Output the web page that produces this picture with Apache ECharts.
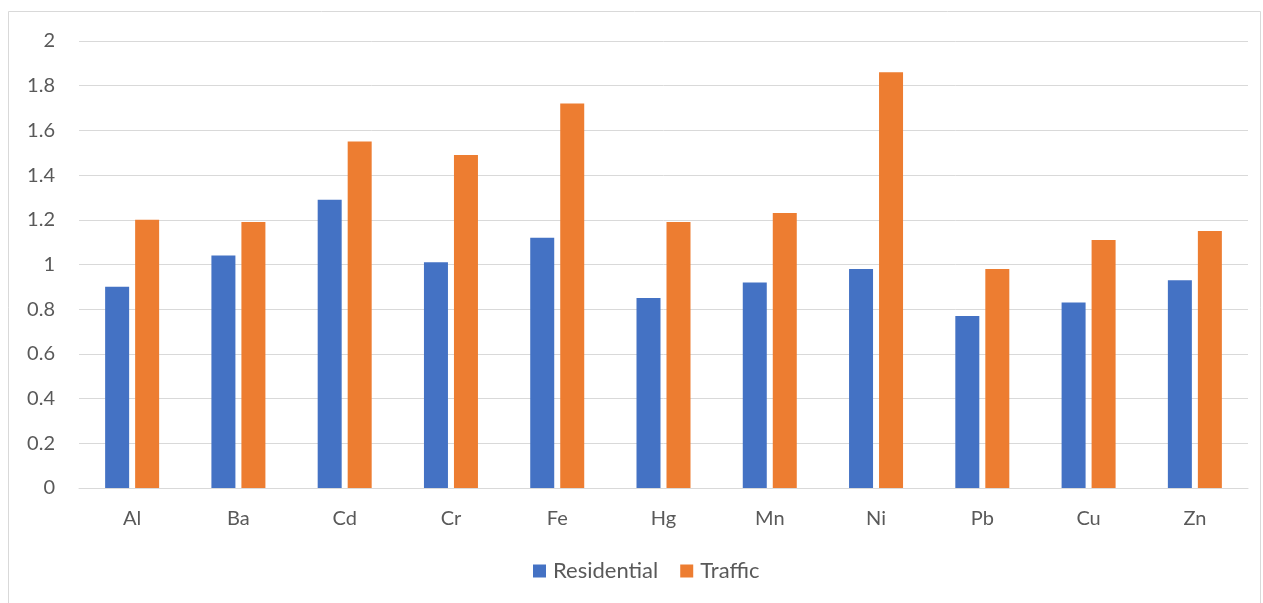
<!DOCTYPE html>
<html><head><meta charset="utf-8">
<script src="https://cdn.jsdelivr.net/npm/echarts@6/dist/echarts.min.js"></script>
<style>html,body{margin:0;padding:0;background:#fff}#c{width:1263px;height:603px}</style>
</head><body><div id="c"></div>
<script>
const categories = ['Al','Ba','Cd','Cr','Fe','Hg','Mn','Ni','Pb','Cu','Zn'];
const residential = [0.90,1.04,1.29,1.01,1.12,0.85,0.92,0.98,0.77,0.83,0.93];
const traffic = [1.20,1.19,1.55,1.49,1.72,1.19,1.23,1.86,0.98,1.11,1.15];
const yTicks = [0,0.2,0.4,0.6,0.8,1,1.2,1.4,1.6,1.8,2];

const font = 'Lato, "Open Sans", sans-serif';
const chart = echarts.init(document.getElementById('c'), null, {renderer:'canvas'});
chart.setOption({
  animation:false,
  backgroundColor:'#fff',
  graphic:[{type:'rect',shape:{x:8.5,y:11.5,width:1252,height:620},style:{fill:'none',stroke:'#d9d9d9',lineWidth:1},silent:true,z:-1}],
  grid:{left:79,right:15,top:41,bottom:115,containLabel:false},
  legend:{bottom:16,left:528,itemWidth:13,itemHeight:13,itemGap:22,
    icon:'rect',textStyle:{fontFamily:font,fontSize:22,color:'#595959',padding:[0,0,0,2]},
    data:['Residential','Traffic']},
  xAxis:{type:'category',data:categories,
    axisLine:{lineStyle:{color:'#d9d9d9',width:1}},axisTick:{show:false},
    axisLabel:{color:'#595959',fontFamily:font,fontSize:20,margin:21}},
  yAxis:{type:'value',min:yTicks[0],max:yTicks[yTicks.length-1],interval:0.2,
    axisLine:{show:false},axisTick:{show:false},
    splitLine:{lineStyle:{color:'#d9d9d9',width:1}},
    axisLabel:{color:'#595959',fontFamily:font,fontSize:20,margin:24,
      formatter:v=>String(Math.round(v*10)/10)}},
  series:[
    {name:'Residential',type:'bar',data:residential,barWidth:24,barGap:'25%',itemStyle:{color:'#4472c4'}},
    {name:'Traffic',type:'bar',data:traffic,barWidth:24,barGap:'25%',itemStyle:{color:'#ed7d31'}}
  ]
});
</script></body></html>
